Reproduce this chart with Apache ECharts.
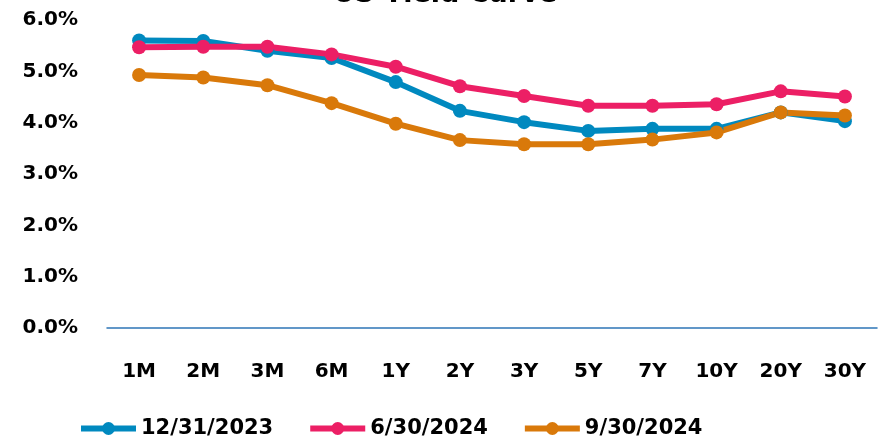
<!DOCTYPE html>
<html><head><meta charset="utf-8">
<script src="https://cdn.jsdelivr.net/npm/echarts@6/dist/echarts.min.js"></script>
<style>html,body{margin:0;padding:0;background:#fff}#c{width:890px;height:440px}</style>
</head><body><div id="c"></div>
<script>
const categories = ['1M','2M','3M','6M','1Y','2Y','3Y','5Y','7Y','10Y','20Y','30Y'];
const dec2023 = [5.60,5.59,5.40,5.26,4.79,4.23,4.01,3.84,3.88,3.88,4.20,4.03];
const jun2024 = [5.47,5.48,5.48,5.33,5.09,4.71,4.52,4.33,4.33,4.36,4.61,4.51];
const sep2024 = [4.93,4.88,4.73,4.38,3.98,3.66,3.58,3.58,3.67,3.81,4.20,4.14];
const seriesNames = ['12/31/2023','6/30/2024','9/30/2024'];
const colors = ['#0089BF','#EC1F65','#D9790A'];
const FONT = 'DejaVu Sans';
const chart = echarts.init(document.getElementById('c'));
const mk = (name, data, color) => ({
  name, type:'line', data, symbol:'circle', symbolSize:14,
  lineStyle:{width:6,color}, itemStyle:{color}, z: 2
});
chart.setOption({
  animation:false,
  title:{text:'US Yield Curve', left:'center', top:-24,
    textStyle:{fontFamily:FONT,fontWeight:'bold',fontSize:27,color:'#000'}},
  grid:{left:107,right:13,top:20,bottom:112},
  legend:{left:78,top:418,padding:0,itemWidth:55,itemHeight:16,itemGap:34,
    lineStyle:{width:6},
    textStyle:{fontFamily:FONT,fontWeight:'bold',fontSize:21,color:'#000'},
    data:seriesNames},
  xAxis:{type:'category',data:categories,boundaryGap:true,
    axisLine:{lineStyle:{color:'#2E75B6',width:1.5}},axisTick:{show:false},
    axisLabel:{margin:34,fontFamily:FONT,fontWeight:'bold',fontSize:20,color:'#000'}},
  yAxis:{type:'value',min:0,max:6,interval:1,splitLine:{show:false},
    axisLine:{show:false},axisTick:{show:false},
    axisLabel:{margin:29,fontFamily:FONT,fontWeight:'bold',fontSize:20,color:'#000',
      formatter:v=>v.toFixed(1)+'%'}},
  series:[mk(seriesNames[0],dec2023,colors[0]),mk(seriesNames[1],jun2024,colors[1]),mk(seriesNames[2],sep2024,colors[2])]
});
</script></body></html>
